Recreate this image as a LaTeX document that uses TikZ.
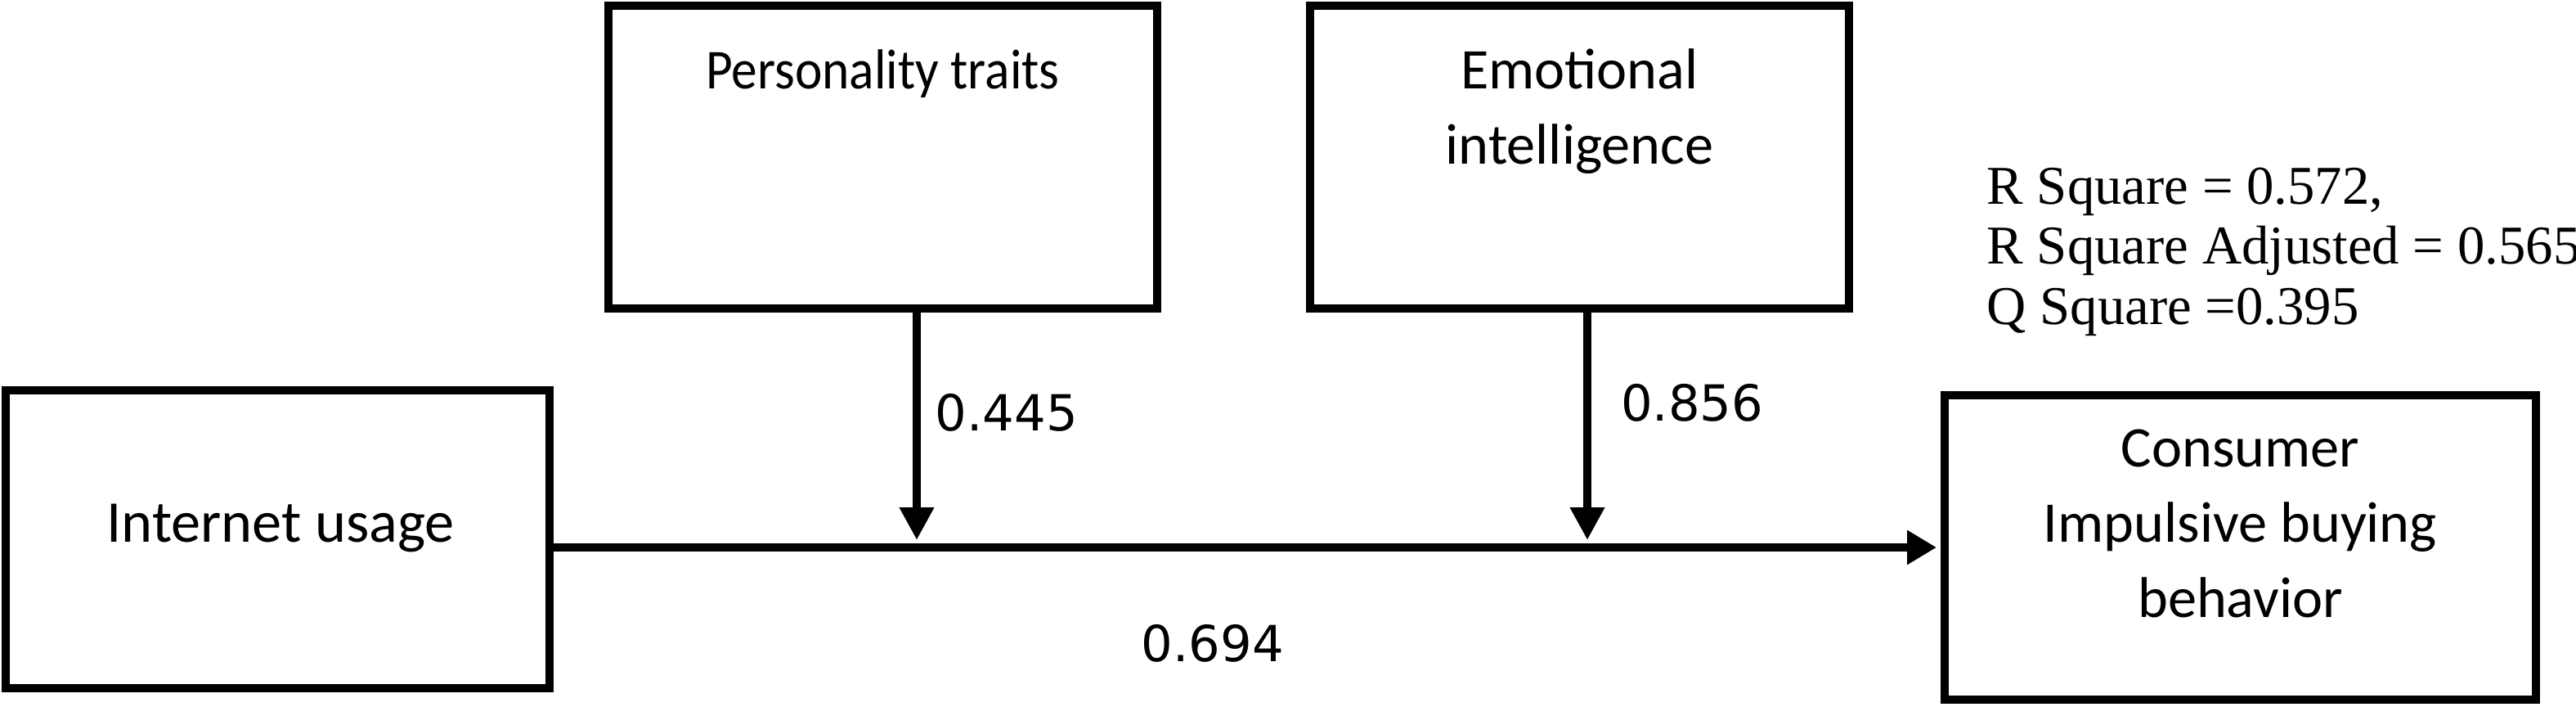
\documentclass[tikz,border=0pt]{standalone}
\usepackage{fontspec}
\setmainfont{Carlito}
\newfontfamily\narrowfont[FakeStretch=0.92]{Carlito}
\newfontfamily\numfont{DejaVu Sans}
\newfontfamily\statfont{Liberation Serif}
\usetikzlibrary{arrows.meta,positioning}

\begin{document}
\begin{tikzpicture}[>={Triangle[length=4mm,width=4mm]},box/.style={rectangle,draw,line width=1mm,inner sep=0pt},boxtext/.style={font=\fontsize{20}{26.3}\selectfont,align=center,inner sep=0pt},coef/.style={font=\numfont\fontsize{17.3}{21}\selectfont,inner sep=0pt}]

            \useasboundingbox (0,0) rectangle (31.5,8.74);

            \node[box, minimum width=6.65cm, minimum height=3.64cm] (iu) at (3.395,2.15) {};
            \node[box, minimum width=6.71cm, minimum height=3.70cm] (pt) at (10.795,6.82) {};
            \node[box, minimum width=6.59cm, minimum height=3.70cm] (ei) at (19.315,6.82) {};
            \node[box, minimum width=7.23cm, minimum height=3.72cm] (cib) at (27.395,2.05) {};

            \node[boxtext, anchor=base, font=\fontsize{20.6}{26}\selectfont] (iutext) at (3.43,2.12) {Internet usage};
            \node[boxtext, anchor=base, font=\narrowfont\fontsize{19.6}{26}\selectfont] (pttext) at (pt.center |- 0,7.65) {Personality traits};
            \node[boxtext] (eitext) at (ei.center |- 0,7.38) {Emotional\\intelligence};
            \node[boxtext] (cibtext) at (cib.center |- 0,2.34) {Consumer\\Impulsive buying\\behavior};

            \coordinate (m1) at (11.21,2.14);
            \coordinate (m2) at (19.41,2.14);

            \draw[->, line width=1mm, shorten >=0.5mm, >={Triangle[length=3.6mm,width=4mm]}] (iu.east |- cib.west) to (cib.west);
            \draw[->, line width=1mm] (m1 |- pt.south) to (m1);
            \draw[->, line width=1mm] (m2 |- ei.south) to (m2);

            \node[coef] (b1) at (12.31,3.70) {0.445};
            \node[coef] (b2) at (20.69,3.82) {0.856};
            \node[coef] (b0) at (14.83,0.88) {0.694};

            \node[anchor=north west, inner sep=0pt, align=left, font=\statfont\fontsize{19}{21}\selectfont] (fit) at (24.29,6.70) {R Square = 0.572,\\R Square Adjusted = 0.565\\Q Square =0.395};

            ;
        \end{tikzpicture}
\end{document}
